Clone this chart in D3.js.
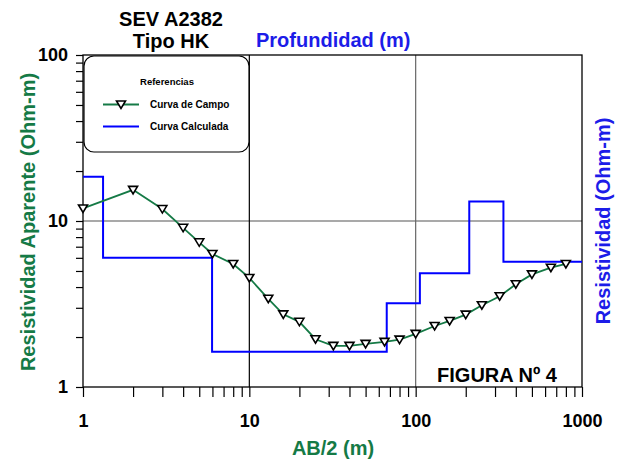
<!DOCTYPE html>
<html><head><meta charset="utf-8">
<script src="https://cdn.jsdelivr.net/npm/d3@7"></script>
<style>
body{margin:0;background:#fff}
svg{display:block}
text{font-family:"Liberation Sans",Arial,sans-serif;font-weight:bold}
</style>
</head><body>
<svg id="c" width="618" height="462"></svg>
<script>
// ---- data ----
const ab2 = [1,2,3,4,5,6,8,10,13,16,20,25,32,40,50,65,80,100,130,160,200,250,320,400,500,650,800];
const rhoApparent = [11.9,15.4,11.8,9.1,7.44,6.33,5.51,4.54,3.40,2.74,2.47,1.94,1.77,1.77,1.82,1.87,1.93,2.09,2.33,2.50,2.73,3.11,3.52,4.16,4.77,5.23,5.51];
const layerDepthBottom = [1.32,5.97,67,106,210,337,1000];
const layerRho = [18.5,6.01,1.63,3.19,4.84,13.1,5.69];
const xTickLabels = [1,10,100,1000];
const yTickLabels = [1,10,100];
const titleLines = ["SEV A2382","Tipo HK"];

const GREEN = "#157a46", BLUE = "#0000ff", BLUE_TXT = "#1c1ce8";
const svg = d3.select("#c");
const x = d3.scaleLog().domain([1,1000]).range([83,582]);
const y = d3.scaleLog().domain([1,100]).range([387,55]);

const minorX = [];
for (const d of [1,10,100]) for (let k=1;k<10;k++) minorX.push(d*k);
minorX.push(1000);
const minorY = [];
for (const d of [1,10]) for (let k=1;k<10;k++) minorY.push(d*k);
minorY.push(100);

// grid lines
svg.append("line").attr("x1",x(1)).attr("x2",x(1000)).attr("y1",y(10)).attr("y2",y(10)).attr("stroke","#555").attr("stroke-width",1.2);
svg.append("line").attr("x1",x(10)).attr("x2",x(10)).attr("y1",y(1)).attr("y2",y(100)).attr("stroke","#000").attr("stroke-width",1.2);
svg.append("line").attr("x1",x(100)).attr("x2",x(100)).attr("y1",y(1)).attr("y2",y(100)).attr("stroke","#666").attr("stroke-width",1.2);

// axes
const fmtX = d => xTickLabels.includes(d) ? String(d) : "";
const fmtY = d => yTickLabels.includes(d) ? String(d) : "";
const gx = svg.append("g").attr("transform",`translate(0,${y(1)})`)
  .call(d3.axisBottom(x).tickValues(minorX).tickSize(10).tickPadding(17).tickFormat(fmtX));
const gy = svg.append("g").attr("transform",`translate(${x(1)},0)`)
  .call(d3.axisLeft(y).tickValues(minorY).tickSize(7).tickPadding(8).tickFormat(fmtY));
[gx,gy].forEach(g=>{
  g.select(".domain").remove();
  g.selectAll("line").attr("stroke","#000").attr("stroke-width",1.2);
  g.selectAll("text").attr("font-size",18).attr("fill","#000").attr("font-family","Liberation Sans, Arial, sans-serif").attr("font-weight","bold");
});

// frame
svg.append("rect").attr("x",x(1)).attr("y",y(100)).attr("width",x(1000)-x(1)).attr("height",y(1)-y(100))
  .attr("fill","none").attr("stroke","#000").attr("stroke-width",1.3);

// calculated (model) step curve
const stepPts = [{x:1,y:layerRho[0]}];
for (let i=0;i<layerRho.length-1;i++) stepPts.push({x:layerDepthBottom[i],y:layerRho[i+1]});
stepPts.push({x:1000,y:layerRho[layerRho.length-1]});
svg.append("path").datum(stepPts)
  .attr("d",d3.line().x(d=>x(d.x)).y(d=>y(d.y)).curve(d3.curveStepAfter))
  .attr("fill","none").attr("stroke",BLUE).attr("stroke-width",2);

// field curve
const field = ab2.map((a,i)=>({x:a,y:rhoApparent[i]}));
svg.append("path").datum(field)
  .attr("d",d3.line().x(d=>x(d.x)).y(d=>y(d.y)))
  .attr("fill","none").attr("stroke",GREEN).attr("stroke-width",1.8);
const tri = "M-4.5,-3.5L4.5,-3.5L0,4Z";
svg.append("g").selectAll("path").data(field).join("path")
  .attr("d",tri).attr("transform",d=>`translate(${x(d.x)},${y(d.y)})`)
  .attr("fill","#fff").attr("stroke","#000").attr("stroke-width",1.6);

// legend
const lg = svg.append("g");
lg.append("rect").attr("x",84).attr("y",56).attr("width",165).attr("height",96).attr("rx",10)
  .attr("fill","#fff").attr("stroke","#000").attr("stroke-width",1.2);
lg.append("text").attr("x",167).attr("y",85).attr("text-anchor","middle").attr("font-size",9.5).text("Referencias");
lg.append("line").attr("x1",103).attr("x2",139).attr("y1",104.5).attr("y2",104.5).attr("stroke",GREEN).attr("stroke-width",1.8);
lg.append("path").attr("d",tri).attr("transform","translate(121,104.5)").attr("fill","#fff").attr("stroke","#000").attr("stroke-width",1.6);
lg.append("text").attr("x",150).attr("y",108).attr("font-size",10).text("Curva de Campo");
lg.append("line").attr("x1",103).attr("x2",139).attr("y1",126.5).attr("y2",126.5).attr("stroke",BLUE).attr("stroke-width",2);
lg.append("text").attr("x",150).attr("y",130).attr("font-size",10).text("Curva Calculada");

// titles
svg.append("text").attr("x",171).attr("y",26).attr("text-anchor","middle").attr("font-size",20).text(titleLines[0]);
svg.append("text").attr("x",171).attr("y",48).attr("text-anchor","middle").attr("font-size",20).text(titleLines[1]);
svg.append("text").attr("x",256).attr("y",47).attr("font-size",20).attr("fill",BLUE_TXT).text("Profundidad (m)");
svg.append("text").attr("x",x(1000)-25).attr("y",382).attr("text-anchor","end").attr("font-size",20).text("FIGURA Nº 4");

// axis titles
svg.append("text").attr("x",333).attr("y",455).attr("text-anchor","middle").attr("font-size",20).attr("fill",GREEN).text("AB/2 (m)");
svg.append("text").attr("transform",`translate(35,${y(10)+1}) rotate(-90)`).attr("text-anchor","middle").attr("font-size",20).attr("fill",GREEN).text("Resistividad Aparente (Ohm-m)");
svg.append("text").attr("transform",`translate(610,${y(10)}) rotate(-90)`).attr("text-anchor","middle").attr("font-size",20).attr("fill",BLUE_TXT).text("Resistividad (Ohm-m)");
</script>
</body></html>
